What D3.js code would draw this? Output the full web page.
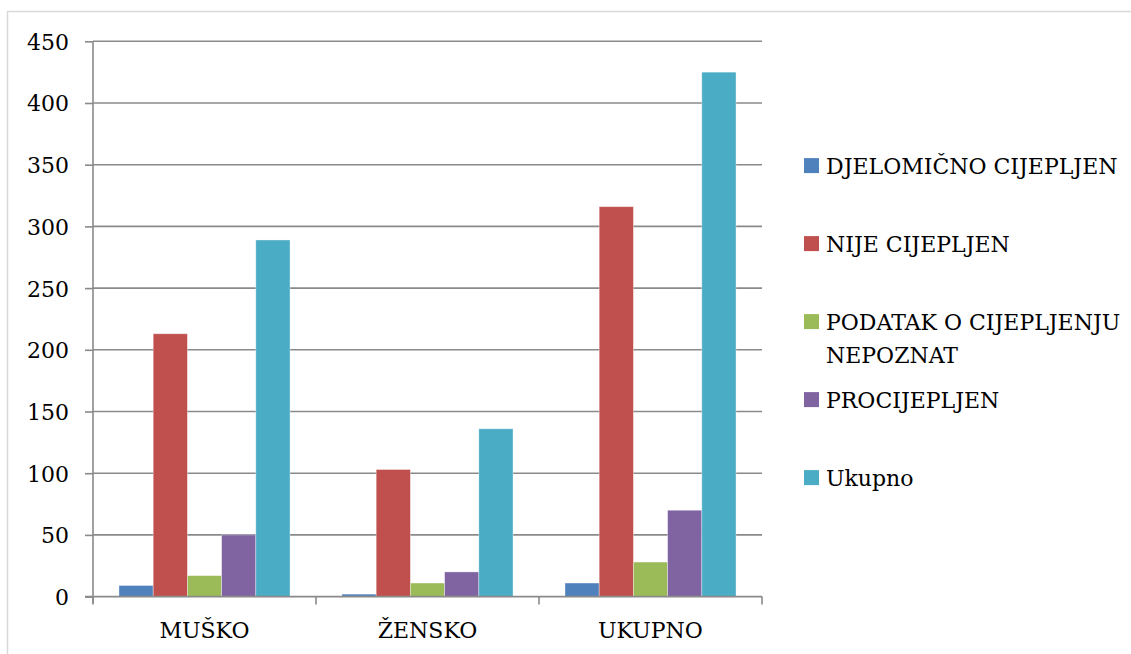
<!DOCTYPE html>
<html>
<head>
<meta charset="utf-8">
<script src="https://cdn.jsdelivr.net/npm/d3@7"></script>
<style>
  html, body { margin: 0; padding: 0; background: #fff; }
  svg { display: block; }
  text { font-family: "DejaVu Serif", "Liberation Serif", serif; fill: #000; }
</style>
</head>
<body>
<svg id="chart" width="1131" height="654"></svg>
<script>
const categories = ["MUŠKO", "ŽENSKO", "UKUPNO"];
const seriesNames = ["DJELOMIČNO CIJEPLJEN", "NIJE CIJEPLJEN", "PODATAK O CIJEPLJENJU NEPOZNAT", "PROCIJEPLJEN", "Ukupno"];
const legendLines = [["DJELOMIČNO CIJEPLJEN"], ["NIJE CIJEPLJEN"], ["PODATAK O CIJEPLJENJU", "NEPOZNAT"], ["PROCIJEPLJEN"], ["Ukupno"]];
const djelomicno = [9, 2, 11];
const nije = [213, 103, 316];
const podatak = [17, 11, 28];
const procijepljen = [50, 20, 70];
const ukupno = [289, 136, 425];
const yTicks = [0, 50, 100, 150, 200, 250, 300, 350, 400, 450];
const colors = ["#4F81BD", "#C0504D", "#9BBB59", "#8064A2", "#4BACC6"];

const seriesValues = [djelomicno, nije, podatak, procijepljen, ukupno];

(function draw() {
const svg = d3.select("#chart");
const pLeft = 93, pRight = 762, pTop = 41.3, pBottom = 596.6;
const axisColor = "#8a8a8a";
const fontFam = '"DejaVu Serif", "Liberation Serif", serif';
const fs = 22;

// outer frame
svg.append("rect").attr("x", 7.5).attr("y", 11.5).attr("width", 1140).attr("height", 660)
  .attr("fill", "none").attr("stroke", "#d9d9d9").attr("stroke-width", 1.5);

const y = d3.scaleLinear().domain([0, 450]).range([pBottom, pTop]);
const x0 = d3.scaleBand().domain(categories).range([pLeft, pRight]).paddingInner(0.233).paddingOuter(0.1165);
const x1 = d3.scaleBand().domain(d3.range(seriesNames.length)).range([0, x0.bandwidth()]);

// gridlines
svg.append("g").selectAll("line").data(yTicks.filter(t => t > 0)).join("line")
  .attr("x1", pLeft).attr("x2", pRight)
  .attr("y1", d => y(d)).attr("y2", d => y(d))
  .attr("stroke", axisColor).attr("stroke-width", 1.6);

// y axis
const yAxis = d3.axisLeft(y).tickValues(yTicks).tickSize(8).tickPadding(16).tickFormat(d3.format("d"));
const gy = svg.append("g").attr("transform", `translate(${pLeft},0)`).call(yAxis);
gy.attr("font-family", fontFam).attr("font-size", fs);
gy.select(".domain").remove();
gy.selectAll(".tick line").attr("stroke", axisColor).attr("stroke-width", 1.6);
gy.selectAll(".tick text").attr("font-size", fs).attr("font-family", fontFam).attr("fill", "#000").attr("dy", "0.36em");
svg.append("line").attr("x1", pLeft).attr("x2", pLeft).attr("y1", pTop).attr("y2", pBottom + 7)
  .attr("stroke", axisColor).attr("stroke-width", 1.6);

// bars
const groups = svg.append("g").selectAll("g").data(categories).join("g")
  .attr("transform", d => `translate(${x0(d)},0)`);
groups.selectAll("rect").data((c, ci) => seriesValues.map((vals, si) => ({si, v: vals[ci]}))).join("rect")
  .attr("x", d => x1(d.si))
  .attr("width", x1.bandwidth())
  .attr("y", d => y(d.v))
  .attr("height", d => y(0) - y(d.v))
  .attr("fill", d => colors[d.si])
  .attr("stroke", "rgba(255,255,255,0.45)").attr("stroke-width", 0.8);

// x axis
const xStep = x0.step();
const xTickPos = d3.range(categories.length + 1).map(i => pLeft + i * xStep);
svg.append("line").attr("x1", pLeft - 8).attr("x2", pRight).attr("y1", pBottom).attr("y2", pBottom)
  .attr("stroke", axisColor).attr("stroke-width", 1.6);
svg.append("g").selectAll("line").data(xTickPos).join("line")
  .attr("x1", d => d).attr("x2", d => d).attr("y1", pBottom).attr("y2", pBottom + 8)
  .attr("stroke", axisColor).attr("stroke-width", 1.6);
svg.append("g").selectAll("text").data(categories).join("text")
  .attr("x", d => x0(d) + x0.bandwidth() / 2)
  .attr("y", 638.3)
  .attr("text-anchor", "middle")
  .attr("font-size", fs)
  .text(d => d);

// legend
const legStart = 165.6, legStep = 78, lineGap = 32.7;
const leg = svg.append("g").selectAll("g").data(legendLines).join("g")
  .attr("transform", (d, i) => `translate(804,${legStart + i * legStep})`);
leg.append("rect").attr("x", 0).attr("y", -7.5).attr("width", 15).attr("height", 15)
  .attr("fill", (d, i) => colors[i]);
leg.each(function(lines) {
  const g = d3.select(this);
  lines.forEach((ln, k) => {
    g.append("text").attr("x", 22).attr("y", 8.3 + k * lineGap).attr("font-size", fs).text(ln);
  });
});
})();
</script>
</body>
</html>
